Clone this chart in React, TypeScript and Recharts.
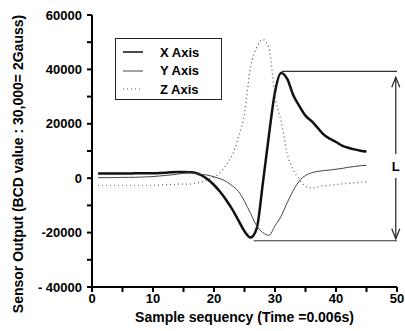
import React from "react"
import { LineChart, Line, XAxis, YAxis, ReferenceLine } from "recharts"

// sample index (1 sample = 0.006s)
const samples = [
  1, 2, 3, 4, 5, 6, 7, 8, 9, 10, 11, 12, 13, 14, 15, 16, 17, 18, 19, 20, 21, 22, 23,
  24, 25, 26, 27, 28, 29, 30, 31, 32, 33, 34, 35, 36, 37, 38, 39, 40, 41, 42, 43, 44, 45,
]

const xAxisValues = [
  1700, 1700, 1700, 1700, 1700, 1700, 1800, 1800, 1800, 1800, 1900, 2000, 2200, 2300, 2300,
  2200, 1900, 1000, -500, -2500, -5000, -8000, -11500, -15500, -19500, -21800, -18500, -2000,
  15700, 31700, 38700, 36500, 30500, 26500, 23000, 21000, 18500, 16000, 14500, 13300, 12000,
  11200, 10600, 10100, 9800,
]

const yAxisValues = [
  200, 200, 200, 250, 300, 300, 350, 400, 500, 600, 800, 1000, 1200, 1500, 1800, 2000, 1700,
  1400, 1100, 500, -200, -1200, -2800, -4800, -8500, -13000, -17500, -20000, -21000, -17500,
  -14000, -9000, -4500, -1000, 1000, 2000, 2500, 2800, 3000, 3300, 3600, 4000, 4300, 4600, 4700,
]

const zAxisValues = [
  -2600, -2600, -2600, -2600, -2600, -2600, -2600, -2600, -2600, -2600, -2500, -2400, -2300,
  -2200, -2200, -2200, -1800, -1400, -500, 500, 2000, 5000, 8500, 15000, 24000, 41000, 48000,
  51000, 48000, 30000, 21000, 9000, 3000, -500, -3000, -3600, -3200, -2800, -2600, -2300, -2100,
  -1900, -1700, -1500, -1400,
]

const xTicks = [0, 5, 10, 15, 20, 25, 30, 35, 40, 45, 50]
const yTicks = [-40000, -30000, -20000, -10000, 0, 10000, 20000, 30000, 40000, 50000, 60000]
const yTickLabels: Record<number, string> = {
  60000: "60000",
  40000: "40000",
  20000: "20000",
  0: "0",
  "-20000": "-20000",
  "-40000": "- 40000",
}

// span "L" between the two peaks
const spanTop = 39300
const spanBottom = -23000
const spanX = 49.8

const series = [
  { key: "x", name: "X Axis", color: "#111", width: 2.5, dash: undefined },
  { key: "y", name: "Y Axis", color: "#444", width: 1, dash: undefined },
  { key: "z", name: "Z Axis", color: "#555", width: 1.2, dash: "1 3" },
]

const data = samples.map((s, i) => ({
  s,
  x: xAxisValues[i],
  y: yAxisValues[i],
  z: zAxisValues[i],
}))

const font = "'Liberation Sans', Arial, sans-serif"

const SpanArrow = (props: any) => {
  const { x1, y1, y2 } = props
  const top = y1 + 6
  const bot = y2 - 2
  const ly = top + (bot - top) * 0.55
  return (
    <g stroke="#222" strokeWidth={1.2} fill="none">
      <line x1={x1} y1={top} x2={x1} y2={ly - 12} />
      <line x1={x1} y1={ly + 12} x2={x1} y2={bot} />
      <polyline points={`${x1 - 4},${top + 10} ${x1},${top} ${x1 + 4},${top + 10}`} />
      <polyline points={`${x1 - 4},${bot - 10} ${x1},${bot} ${x1 + 4},${bot - 10}`} />
      <text x={x1} y={ly + 5} textAnchor="middle" stroke="none" fill="#000"
        fontFamily={font} fontWeight="bold" fontSize={13}>L</text>
    </g>
  )
}

export default function App() {
  return (
    <div style={{ position: "absolute", left: 0, top: 0, width: 405, height: 331, background: "#fff" }}>
      <LineChart width={405} height={331} data={data} margin={{ top: 15, right: 8, bottom: 0, left: 0 }}>
        <XAxis
          dataKey="s"
          type="number"
          domain={[0, 50]}
          ticks={xTicks}
          tickFormatter={(v) => (v % 10 === 0 ? `${v}` : "")}
          stroke="#000"
          strokeWidth={2}
          tickSize={5}
          tickMargin={2}
          height={44}
          tick={{ fill: "#000", fontSize: 13, fontWeight: "bold", fontFamily: font }}
          label={{
            value: "Sample sequency (Time =0.006s)",
            position: "insideBottom",
            offset: 9,
            style: { fill: "#000", fontSize: 14, fontWeight: "bold", fontFamily: font },
          }}
        />
        <YAxis
          type="number"
          domain={[-40000, 60000]}
          ticks={yTicks}
          tickFormatter={(v) => yTickLabels[v] ?? ""}
          stroke="#000"
          strokeWidth={2}
          tickSize={5}
          tickMargin={5}
          width={92}
          tick={{ fill: "#000", fontSize: 13, fontWeight: "bold", fontFamily: font }}
          label={{
            content: () => (
              <text x={18} y={164} transform="rotate(-90 18 164)" textAnchor="middle"
                dominantBaseline="central" fill="#000" fontSize={14} fontWeight="bold" fontFamily={font}>
                Sensor Output (BCD value : 30,000= 2Gauss)
              </text>
            ),
          }}
        />
        <ReferenceLine segment={[{ x: 31.1, y: spanTop }, { x: 50, y: spanTop }]} stroke="#333" strokeWidth={1.2} ifOverflow="visible" />
        <ReferenceLine segment={[{ x: 26.5, y: spanBottom }, { x: 50, y: spanBottom }]} stroke="#333" strokeWidth={1.2} ifOverflow="visible" />
        <ReferenceLine
          segment={[{ x: spanX, y: spanTop }, { x: spanX, y: spanBottom }]}
          ifOverflow="visible"
          shape={SpanArrow}
        />
        {series.map((s) => (
          <Line
            key={s.key}
            dataKey={s.key}
            name={s.name}
            type="monotone"
            stroke={s.color}
            strokeWidth={s.width}
            strokeDasharray={s.dash}
            dot={false}
            activeDot={false}
            isAnimationActive={false}
          />
        ))}
      </LineChart>
      <div
        style={{
          position: "absolute",
          left: 115,
          top: 38,
          width: 107,
          height: 62,
          border: "1.5px solid #222",
          background: "#fff",
          paddingTop: 4,
          boxSizing: "border-box",
          fontFamily: font,
          fontWeight: "bold",
          fontSize: 13,
        }}
      >
        {series.map((s) => (
          <div key={s.key} style={{ display: "flex", alignItems: "center", height: 18.5 }}>
            <svg width={44} height={18} style={{ flex: "none" }}>
              <line x1={7} y1={9} x2={27} y2={9} stroke={s.color}
                strokeWidth={s.key === "x" ? 1.5 : 1} strokeDasharray={s.dash} />
            </svg>
            <span>{s.name}</span>
          </div>
        ))}
      </div>
    </div>
  )
}
